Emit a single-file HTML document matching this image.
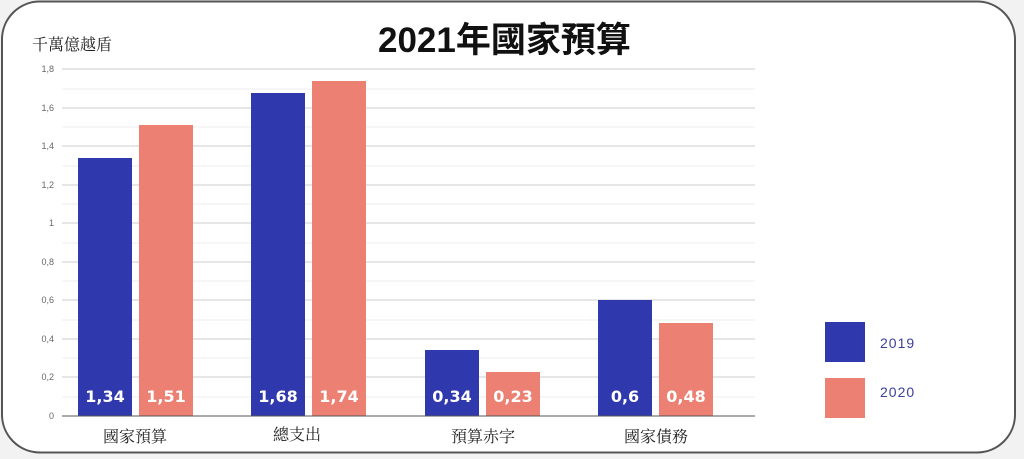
<!DOCTYPE html>
<html><head><meta charset="utf-8"><style>
html,body{margin:0;padding:0;background:#f2f2f2;width:1024px;height:459px;overflow:hidden}
</style></head><body>
<svg width="1024" height="459" xmlns="http://www.w3.org/2000/svg">
<rect x="2" y="1.5" width="1013" height="451" rx="38" fill="#fff" stroke="#555" stroke-width="2"/>
<text x="378" y="52" font-family="Liberation Sans,'Noto Sans CJK TC',sans-serif" font-size="35" font-weight="bold" fill="#111">2021年國家預算</text>
<text x="32" y="50" font-family="'Noto Serif CJK SC','Liberation Serif',serif" font-size="16" fill="#222">千萬億越盾</text>
<g stroke="#eee" stroke-width="1">
<line x1="62" x2="755" y1="397" y2="397"/><line x1="62" x2="755" y1="358" y2="358"/><line x1="62" x2="755" y1="320" y2="320"/><line x1="62" x2="755" y1="281" y2="281"/><line x1="62" x2="755" y1="243" y2="243"/><line x1="62" x2="755" y1="204" y2="204"/><line x1="62" x2="755" y1="166" y2="166"/><line x1="62" x2="755" y1="127" y2="127"/><line x1="62" x2="755" y1="89" y2="89"/>
</g>
<g stroke="#ccc" stroke-width="1">
<line x1="62" x2="755" y1="377" y2="377"/><line x1="62" x2="755" y1="339" y2="339"/><line x1="62" x2="755" y1="300" y2="300"/><line x1="62" x2="755" y1="262" y2="262"/><line x1="62" x2="755" y1="223" y2="223"/><line x1="62" x2="755" y1="185" y2="185"/><line x1="62" x2="755" y1="146" y2="146"/><line x1="62" x2="755" y1="108" y2="108"/><line x1="62" x2="755" y1="69" y2="69"/>
</g>
<g font-family="Liberation Sans,sans-serif" font-size="9" fill="#666" text-anchor="end">
<text x="54" y="419">0</text><text x="54" y="380">0,2</text><text x="54" y="342">0,4</text><text x="54" y="303">0,6</text><text x="54" y="265">0,8</text><text x="54" y="226">1</text><text x="54" y="188">1,2</text><text x="54" y="149">1,4</text><text x="54" y="111">1,6</text><text x="54" y="72">1,8</text>
</g>
<g fill="#3038ad">
<rect x="78" y="158" width="54" height="258"/><rect x="251" y="93" width="54" height="323"/><rect x="425" y="350" width="54" height="66"/><rect x="598" y="300" width="54" height="116"/>
</g>
<g fill="#ec8073">
<rect x="139" y="125" width="54" height="291"/><rect x="312" y="81" width="54" height="335"/><rect x="486" y="372" width="54" height="44"/><rect x="659" y="323" width="54" height="93"/>
</g>
<line x1="62" x2="755" y1="416" y2="416" stroke="#555" stroke-width="1"/>
<g font-family="'DejaVu Sans',sans-serif" font-size="16" font-weight="bold" fill="#fff" text-anchor="middle">
<text x="105" y="402">1,34</text><text x="166" y="402">1,51</text><text x="278" y="402">1,68</text><text x="339" y="402">1,74</text><text x="452" y="402">0,34</text><text x="513" y="402">0,23</text><text x="625" y="402">0,6</text><text x="686" y="402">0,48</text>
</g>
<g font-family="'Noto Serif CJK SC','Liberation Serif',serif" font-size="16" fill="#222" text-anchor="middle">
<text x="135" y="442">國家預算</text><text x="297" y="440">總支出</text><text x="483" y="442">預算赤字</text><text x="656" y="442">國家債務</text>
</g>
<rect x="825" y="322" width="40" height="40" fill="#3038ad"/>
<rect x="825" y="378" width="40" height="40" fill="#ec8073"/>
<g font-family="Liberation Sans,sans-serif" font-size="14" fill="#3a3f9a" letter-spacing="1">
<text x="880" y="348">2019</text><text x="880" y="397">2020</text>
</g>
</svg>
</body></html>
